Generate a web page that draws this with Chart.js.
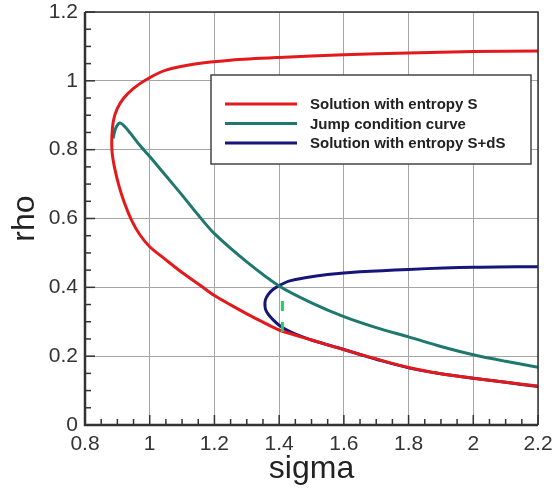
<!DOCTYPE html>
<html>
<head>
<meta charset="utf-8">
<style>
html,body{margin:0;padding:0;background:#fff}
#c{display:block}
</style>
<script src="https://cdn.jsdelivr.net/npm/chart.js@4/dist/chart.umd.min.js"></script>
</head>
<body>
<canvas id="c" width="555" height="492"></canvas>
<script>
// tick values
const xTicks = [0.8, 1, 1.2, 1.4, 1.6, 1.8, 2, 2.2];
const yTicks = [0, 0.2, 0.4, 0.6, 0.8, 1, 1.2];

// Solution with entropy S (upper branch -> turning point -> lower branch)
const redSigma = [2.2, 2.0, 1.8, 1.6, 1.4, 1.25, 1.14, 1.05, 0.99, 0.95, 0.92, 0.9, 0.888, 0.883,
  0.884, 0.892, 0.905, 0.922, 0.943, 0.968, 1.0, 1.05, 1.1, 1.16, 1.2, 1.25, 1.3, 1.35, 1.4, 1.5, 1.6, 1.7, 1.8, 1.9, 2.0, 2.1, 2.2];
const redRho = [1.087, 1.085, 1.081, 1.076, 1.068, 1.06, 1.049, 1.031, 1.004, 0.978, 0.95, 0.92, 0.885, 0.835,
  0.79, 0.745, 0.695, 0.645, 0.597, 0.555, 0.518, 0.48, 0.443, 0.403, 0.376, 0.349, 0.323, 0.299, 0.276, 0.247, 0.219, 0.192, 0.167, 0.149, 0.136, 0.124, 0.113];

// Jump condition curve
const tealSigma = [0.887, 0.893, 0.902, 0.91, 0.922, 0.94, 0.97, 1.0, 1.05, 1.1, 1.15, 1.2, 1.3, 1.4, 1.5, 1.6, 1.7, 1.8, 1.9, 2.0, 2.1, 2.2];
const tealRho = [0.833, 0.858, 0.874, 0.877, 0.868, 0.848, 0.812, 0.78, 0.724, 0.668, 0.61, 0.556, 0.474, 0.404, 0.355, 0.315, 0.283, 0.256, 0.228, 0.204, 0.185, 0.168];

// Solution with entropy S+dS
const blueSigma = [2.2, 2.0, 1.8, 1.65, 1.55, 1.48, 1.43, 1.4, 1.38, 1.366, 1.358, 1.356,
  1.358, 1.366, 1.38, 1.4, 1.43, 1.47, 1.52, 1.58, 1.65, 1.7, 1.8, 1.9, 2.0, 2.1, 2.2];
const blueRho = [0.46, 0.458, 0.452, 0.445, 0.437, 0.428, 0.418, 0.405, 0.393, 0.379, 0.365, 0.352,
  0.336, 0.322, 0.307, 0.29, 0.273, 0.257, 0.241, 0.225, 0.205, 0.191, 0.166, 0.149, 0.136, 0.124, 0.112];

// dashed green marker between the curves
const dashSigma = [1.41, 1.41];
const dashRho = [0.27, 0.365];

const pts = (xs, ys) => xs.map((x, i) => ({ x: x, y: ys[i] }));
const FONT = "'Liberation Sans', Arial, Helvetica, sans-serif";

const line = (label, data, color, extra) => Object.assign({
  label: label, data: data, borderColor: color, backgroundColor: color,
  showLine: true, pointRadius: 0, borderWidth: 3, tension: 0.3, fill: false
}, extra || {});

// frame + inward major/minor ticks
const framePlugin = {
  id: 'frame',
  afterDatasetsDraw(chart) {
    const ctx = chart.ctx, a = chart.chartArea;
    const xs = chart.scales.x, ys = chart.scales.y;
    ctx.save();
    ctx.strokeStyle = '#333';
    ctx.lineWidth = 1.5;
    ctx.beginPath();
    ctx.moveTo(a.left, a.top); ctx.lineTo(a.right, a.top); ctx.lineTo(a.right, a.bottom);
    ctx.stroke();
    ctx.lineWidth = 2.5;
    ctx.beginPath();
    ctx.moveTo(a.left, a.top); ctx.lineTo(a.left, a.bottom); ctx.lineTo(a.right, a.bottom);
    ctx.stroke();
    ctx.lineWidth = 1.5;
    for (let i = 0; i <= 28; i++) {
      const px = xs.getPixelForValue(0.8 + i * 0.05);
      const len = i % 4 === 0 ? 10 : 6;
      ctx.beginPath(); ctx.moveTo(px, a.bottom); ctx.lineTo(px, a.bottom - len); ctx.stroke();
    }
    for (let i = 0; i <= 24; i++) {
      const py = ys.getPixelForValue(i * 0.05);
      const len = i % 4 === 0 ? 10 : 6;
      ctx.beginPath(); ctx.moveTo(a.left, py); ctx.lineTo(a.left + len, py); ctx.stroke();
    }
    ctx.restore();
  }
};

// boxed legend inside the plot
const legendPlugin = {
  id: 'boxLegend',
  afterDatasetsDraw(chart) {
    const ctx = chart.ctx;
    const items = chart.data.datasets.filter(d => d.label);
    ctx.save();
    ctx.fillStyle = '#fff';
    ctx.fillRect(211, 75, 320, 89);
    ctx.strokeStyle = '#444';
    ctx.lineWidth = 1.5;
    ctx.strokeRect(211, 75, 320, 89);
    ctx.font = 'bold 15px ' + FONT;
    ctx.textBaseline = 'middle';
    items.forEach((d, i) => {
      const y = 104 + i * 19.5;
      ctx.strokeStyle = d.borderColor;
      ctx.lineWidth = 3;
      ctx.beginPath(); ctx.moveTo(225, y); ctx.lineTo(297, y); ctx.stroke();
      ctx.fillStyle = '#222';
      ctx.fillText(d.label, 310, y + 1);
    });
    ctx.restore();
  }
};

new Chart(document.getElementById('c'), {
  type: 'scatter',
  data: {
    datasets: [
      line('Solution with entropy S', pts(redSigma, redRho), '#e3191c'),
      line('Jump condition curve', pts(tealSigma, tealRho), '#1e786e'),
      line('Solution with entropy S+dS', pts(blueSigma, blueRho), '#15157a'),
      line('', pts(dashSigma, dashRho), '#22cc5e', { borderDash: [10, 11], tension: 0, order: -1 })
    ]
  },
  options: {
    responsive: false,
    devicePixelRatio: 1,
    animation: false,
    layout: { padding: { top: 12, right: 17, left: 0, bottom: 0 } },
    plugins: { legend: { display: false }, tooltip: { enabled: false } },
    scales: {
      x: {
        type: 'linear', min: 0.8, max: 2.2,
        afterBuildTicks: s => { s.ticks = xTicks.map(v => ({ value: v })); },
        afterFit: s => { s.height = 67; s.paddingLeft = 0; s.paddingRight = 0; },
        grid: { color: '#a6a6a6', lineWidth: 1, drawTicks: false },
        border: { display: false },
        ticks: { padding: 7, color: '#333', font: { family: FONT, size: 21 }, callback: v => String(v), maxRotation: 0 },
        title: { display: true, text: 'sigma', color: '#222', font: { family: FONT, size: 32 }, padding: { top: 0, bottom: 4 } }
      },
      y: {
        type: 'linear', min: 0, max: 1.2,
        afterBuildTicks: s => { s.ticks = yTicks.map(v => ({ value: v })); },
        afterFit: s => { s.width = 85; s.paddingTop = 0; s.paddingBottom = 0; },
        grid: { color: '#a6a6a6', lineWidth: 1, drawTicks: false },
        border: { display: false },
        ticks: { padding: 7, color: '#333', font: { family: FONT, size: 21 }, callback: v => String(v) },
        title: { display: true, text: 'rho', color: '#222', font: { family: FONT, size: 32 }, padding: { top: 6, bottom: 0 } }
      }
    }
  },
  plugins: [framePlugin, legendPlugin]
});
</script>
</body>
</html>
